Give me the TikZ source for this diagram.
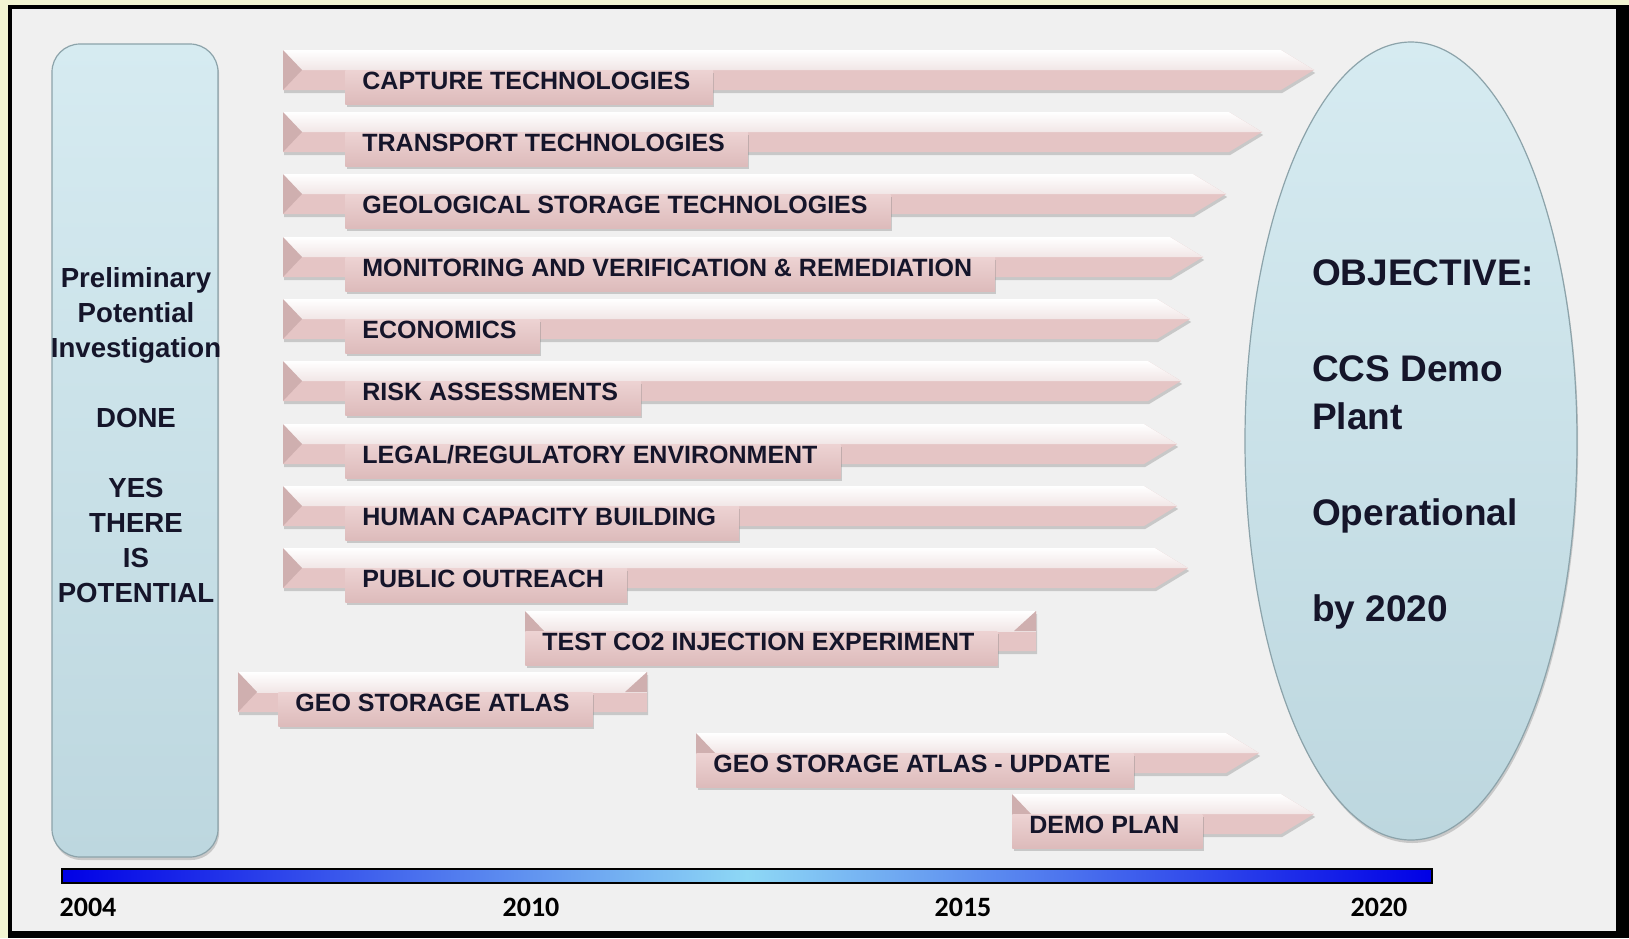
\documentclass[tikz,border=0pt]{standalone}
\usepackage{fontspec}
\setmainfont{Liberation Sans}
\newfontfamily\yearfont{Carlito}
\usetikzlibrary{shadows}
\usetikzlibrary{shapes.geometric}

\begin{document}
\begin{tikzpicture}[x=0.5pt, y=0.5pt,
    softshadow/.style={drop shadow={opacity=0.35, shadow xshift=0.6pt, shadow yshift=-1.5pt}},
    bandbase/.style={fill=bandpink, softshadow},
    bandtop/.style={top color=white, bottom color=bandlight},
    bevel/.style={fill=bevelpink},
    labelbox/.style={top color=boxtop, bottom color=boxbot, softshadow, anchor=base west,
        inner xsep=8.5pt, inner ysep=0pt, text height=9.5pt, text depth=7.5pt,
        execute at end node={\hspace{3pt}},
        font=\fontsize{12.5}{14}\selectfont\bfseries, text=textdark},
    skyshape/.style={top color=skytop, middle color=skyblue, bottom color=skyblue,
        draw=rimgrey, line width=0.6pt, softshadow},
    yearlabel/.style={font=\yearfont\fontsize{14}{16}\selectfont\bfseries, text=black}]

    % Farben
    \definecolor{bgyellow}{HTML}{F3F5D2}
    \definecolor{panelgrey}{HTML}{F0F0F0}
    \definecolor{bandpink}{HTML}{E5C5C5}
    \definecolor{bandlight}{HTML}{F1E6E6}
    \definecolor{bevelpink}{HTML}{CFAFAF}
    \definecolor{boxtop}{HTML}{EDD3D3}
    \definecolor{boxbot}{HTML}{DDBBBB}
    \definecolor{textdark}{HTML}{15152A}
    \definecolor{skyblue}{HTML}{BDD7DF}
    \definecolor{skytop}{HTML}{D6EBF1}
    \definecolor{rimgrey}{HTML}{8CA3AA}
    \definecolor{barblue}{HTML}{0000E6}
    \definecolor{barlight}{HTML}{8ED8F5}

    % Rahmen
    \useasboundingbox (0,0) rectangle (1629,-938);
    \fill[bgyellow] (0,0) rectangle (1629,-938);
    \fill[black] (8,-5) rectangle (1629,-938);
    \fill[panelgrey] (12,-9) rectangle (1616,-931);

    % Linke Saeule
    \node[skyshape, rounded corners=14pt, minimum width=83pt, minimum height=406.5pt, inner sep=0pt]
        (prelim) at (135,-450.5) {};
    \node[align=center, font=\fontsize{13.8}{17.5}\selectfont\bfseries, text=textdark]
        (prelimtext) at (136,-435.5)
        {Preliminary\\Potential\\Investigation\\[17.5pt]DONE\\[17.5pt]YES\\THERE\\IS\\POTENTIAL};

    % Ziel (Ellipse)
    \node[skyshape, ellipse, minimum width=166pt, minimum height=399pt, inner sep=0pt]
        (goal) at (1411,-441) {};
    \node[align=left, anchor=west, font=\fontsize{18.5}{24}\selectfont\bfseries, text=textdark]
        (goaltext) at (1305,-444)
        {OBJECTIVE:\\[24pt]CCS Demo\\Plant\\[24pt]Operational\\[24pt]by 2020};

    % Baender: Mitte / Start / Ende / Spitze / Label-Start / Text
    \foreach \tc/\xs/\xe/\tp/\bx/\txt [count=\i] in {
        80/283/1314/33/345/{CAPTURE TECHNOLOGIES},
        142/283/1262/33/345/{TRANSPORT TECHNOLOGIES},
        204/283/1226/33/345/{GEOLOGICAL STORAGE TECHNOLOGIES},
        267/283/1203/33/345/{MONITORING AND VERIFICATION \& REMEDIATION},
        329/283/1190/33/345/{ECONOMICS},
        391/283/1181/33/345/{RISK ASSESSMENTS},
        454/283/1177/33/345/{LEGAL/REGULATORY ENVIRONMENT},
        516/283/1177/33/345/{HUMAN CAPACITY BUILDING},
        578/283/1188/33/345/{PUBLIC OUTREACH},
        641/525/1036/0/525/{TEST CO2 INJECTION EXPERIMENT},
        702/238/647/0/278/{GEO STORAGE ATLAS},
        763/696/1259/33/696/{GEO STORAGE ATLAS - UPDATE},
        824/1012/1314/33/1012/{DEMO PLAN}} {
        \fill[bandbase] (\xs,-\tc+30) -- ({\xe-\tp},-\tc+30) -- (\xe,-\tc+10)
            -- ({\xe-\tp},-\tc-10) -- (\xs,-\tc-10) -- cycle;
        \shade[bandtop] (\xs,-\tc+30) -- ({\xe-\tp},-\tc+30) -- (\xe,-\tc+10) -- (\xs,-\tc+10) -- cycle;
        \fill[bevel] (\xs,-\tc+30) -- (\xs+19,-\tc+10) -- (\xs,-\tc-10) -- cycle;
        \ifnum\tp=0
            \fill[bevel] (\xe,-\tc+30) -- (\xe-22,-\tc+10) -- (\xe,-\tc+10) -- cycle;
        \fi
        \node[labelbox] (lab\i) at (\bx,-\tc-9) {\txt};
    }

    % Zeitachse
    \shade[left color=barblue, right color=barblue, middle color=barlight, draw=black, line width=1pt]
        (62,-869) rectangle (1432,-883);
    \node[yearlabel] (y2004) at (88,-907) {2004};
    \node[yearlabel] (y2010) at (531,-907) {2010};
    \node[yearlabel] (y2015) at (963,-907) {2015};
    \node[yearlabel] (y2020) at (1379,-907) {2020};

\end{tikzpicture}
\end{document}
